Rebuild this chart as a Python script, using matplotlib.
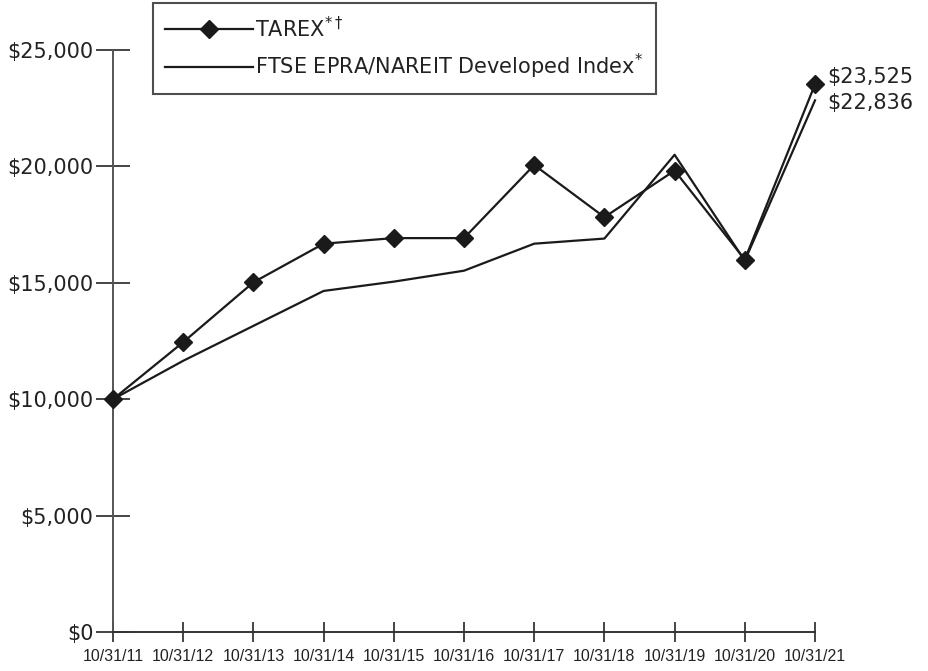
import matplotlib
matplotlib.use("Agg")
import matplotlib.pyplot as plt

# 数据
dates = ['10/31/11', '10/31/12', '10/31/13', '10/31/14', '10/31/15', '10/31/16',
         '10/31/17', '10/31/18', '10/31/19', '10/31/20', '10/31/21']
tarex = [10000, 12450, 15020, 16680, 16920, 16920, 20060, 17820, 19820, 16000, 23525]
ftse = [10000, 11650, 13150, 14650, 15050, 15520, 16680, 16900, 20500, 15950, 22836]
yticks = [0, 5000, 10000, 15000, 20000, 25000]

plt.rcParams["font.family"] = ["DejaVu Sans"]

fig = plt.figure(figsize=(9.29, 6.71), dpi=100)
ax = fig.add_axes([113 / 929, 1 - 632 / 671, (815 - 113) / 929, (632 - 50) / 671])

x = list(range(len(dates)))
ax.plot(x, ftse, color='#1a1a1a', linewidth=1.6, clip_on=False,
        label='FTSE EPRA/NAREIT Developed Index$^{*}$', zorder=3)
ax.plot(x, tarex, color='#1a1a1a', linewidth=1.6, marker='D', markersize=9.5,
        clip_on=False, label='TAREX$^{*\\dagger}$', zorder=4)

ax.set_xlim(0, len(dates) - 1)
ax.set_ylim(0, 25000)
ax.set_xticks(x)
ax.set_xticklabels(dates, family='Liberation Sans', fontsize=11.5, color='#222222')
ax.set_yticks(yticks)
ax.set_yticklabels(['${:,}'.format(v) for v in yticks], fontsize=15, color='#222222')

for s in ['top', 'right']:
    ax.spines[s].set_visible(False)
ax.spines['left'].set_color('#555555')
ax.spines['bottom'].set_color('#333333')
ax.spines['left'].set_linewidth(1.4)
ax.spines['bottom'].set_linewidth(1.4)
ax.tick_params(axis='y', direction='inout', length=24, width=1.4, color='#444444', pad=2)
ax.tick_params(axis='x', direction='inout', length=14.5, width=1.4, color='#444444', pad=5)

# 末端数值标注
ax.annotate('${:,}'.format(tarex[-1]), xy=(x[-1], tarex[-1]), xytext=(12, 7),
            textcoords='offset pixels', fontsize=15, va='center', ha='left', color='#222222')
ax.annotate('${:,}'.format(ftse[-1]), xy=(x[-1], ftse[-1]), xytext=(12, -3),
            textcoords='offset pixels', fontsize=15, va='center', ha='left', color='#222222')

# 图例
handles, labels = ax.get_legend_handles_labels()
leg = ax.legend(handles[::-1], labels[::-1], loc='upper left',
                bbox_to_anchor=(153 / 929, 1 - 3 / 671), bbox_transform=fig.transFigure,
                borderaxespad=0, fontsize=15, frameon=True, fancybox=False,
                handlelength=4.2, handletextpad=0.1, borderpad=0.6, labelspacing=0.55)
leg.get_frame().set_edgecolor('#222222')
leg.get_frame().set_linewidth(1.5)
for t in leg.get_texts():
    t.set_color('#222222')

fig.savefig('out.png', dpi=100)
